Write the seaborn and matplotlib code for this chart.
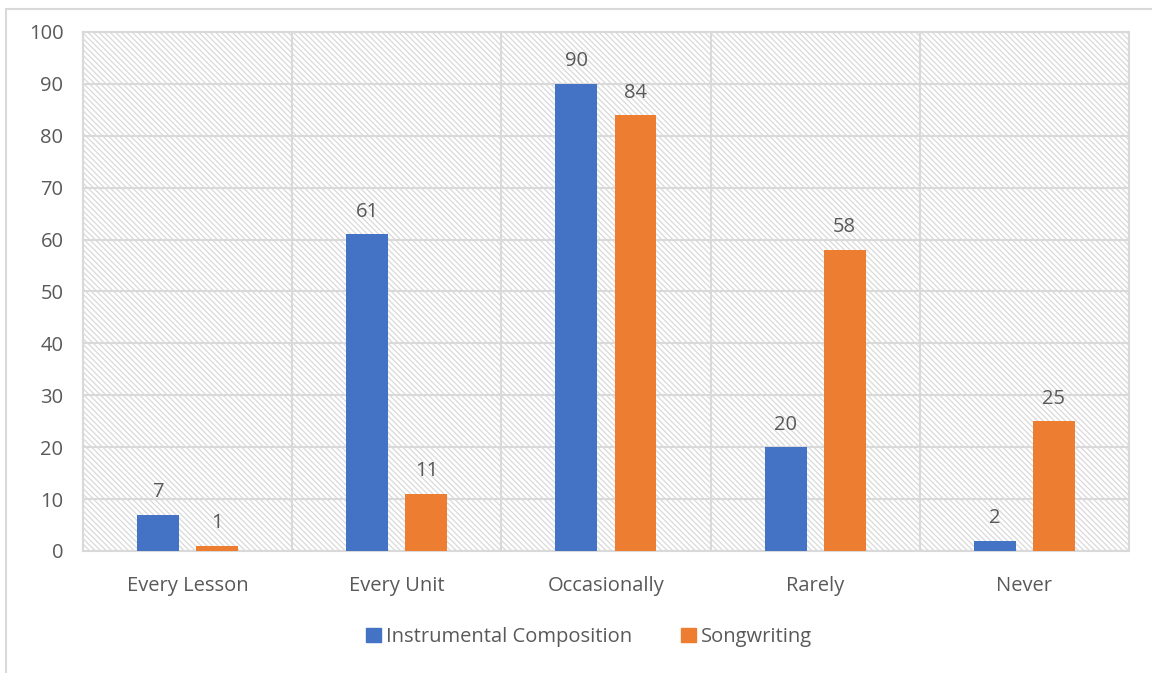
import matplotlib
matplotlib.use("Agg")
import matplotlib.pyplot as plt
import matplotlib.patches as mpatches
import pandas as pd
import seaborn as sns

# data
categories = ["Every Lesson", "Every Unit", "Occasionally", "Rarely", "Never"]
instrumental = [7, 61, 90, 20, 2]
songwriting = [1, 11, 84, 58, 25]
series_names = ["Instrumental Composition", "Songwriting"]
y_ticks = list(range(0, 101, 10))

df = pd.DataFrame({
    "category": categories * 2,
    "value": instrumental + songwriting,
    "series": [series_names[0]] * len(categories) + [series_names[1]] * len(categories),
})

sns.set_theme(style="white")
plt.rcParams["font.family"] = ["Open Sans", "DejaVu Sans"]
plt.rcParams["hatch.color"] = "#dcdcdc"
plt.rcParams["hatch.linewidth"] = 0.9

text_color = "#595959"
grid_color = "#d9d9d9"
fs = 14.5
palette = {series_names[0]: "#4472C4", series_names[1]: "#ED7D31"}

fig = plt.figure(figsize=(11.52, 6.73), dpi=100)
ax = fig.add_axes([0.072, 0.1813, 0.908, 0.7712])

# hatched plot area background
ax.patch.set_facecolor("white")
ax.patch.set_hatch("\\\\\\\\\\\\")
ax.patch.set_edgecolor(grid_color)
ax.patch.set_linewidth(0)

sns.barplot(data=df, x="category", y="value", hue="series", palette=palette,
            width=0.565, gap=0.29, ax=ax, saturation=1, zorder=3,
            linewidth=0, edgecolor="none")

for cont in ax.containers:
    ax.bar_label(cont, padding=9, fontsize=fs, color=text_color)

ax.set_ylim(0, 100)
ax.set_yticks(y_ticks)
ax.set_xlim(-0.5, len(categories) - 0.5)
ax.set_xticks([i + 0.5 for i in range(-1, len(categories))], minor=True)
ax.grid(axis="y", color=grid_color, linewidth=1.5, zorder=1)
ax.grid(axis="x", which="minor", color=grid_color, linewidth=1.5, zorder=1)
ax.set_axisbelow(True)
ax.tick_params(axis="both", which="both", length=0, labelsize=fs, labelcolor=text_color)
ax.tick_params(axis="x", pad=18)
ax.tick_params(axis="y", pad=14)
for s in ax.spines.values():
    s.set_color(grid_color)
    s.set_linewidth(1.5)
ax.set_xlabel("")
ax.set_ylabel("")

handles = [mpatches.Patch(color=palette[n], label=n) for n in series_names]
ax.legend(handles=handles, loc="center", bbox_to_anchor=(0.484, -0.166), ncol=2,
          frameon=False, fontsize=fs, labelcolor=text_color, handlelength=0.75,
          handleheight=0.75, handletextpad=0.25, columnspacing=2.4)

# outer chart border
fig.patches.append(mpatches.Rectangle((6 / 1152, -0.1), 1.2, (670 - 3) / 673 + 0.1 - 0.004,
                                      transform=fig.transFigure, fill=False,
                                      edgecolor=grid_color, linewidth=1.5))

fig.savefig("out.png", dpi=100)
